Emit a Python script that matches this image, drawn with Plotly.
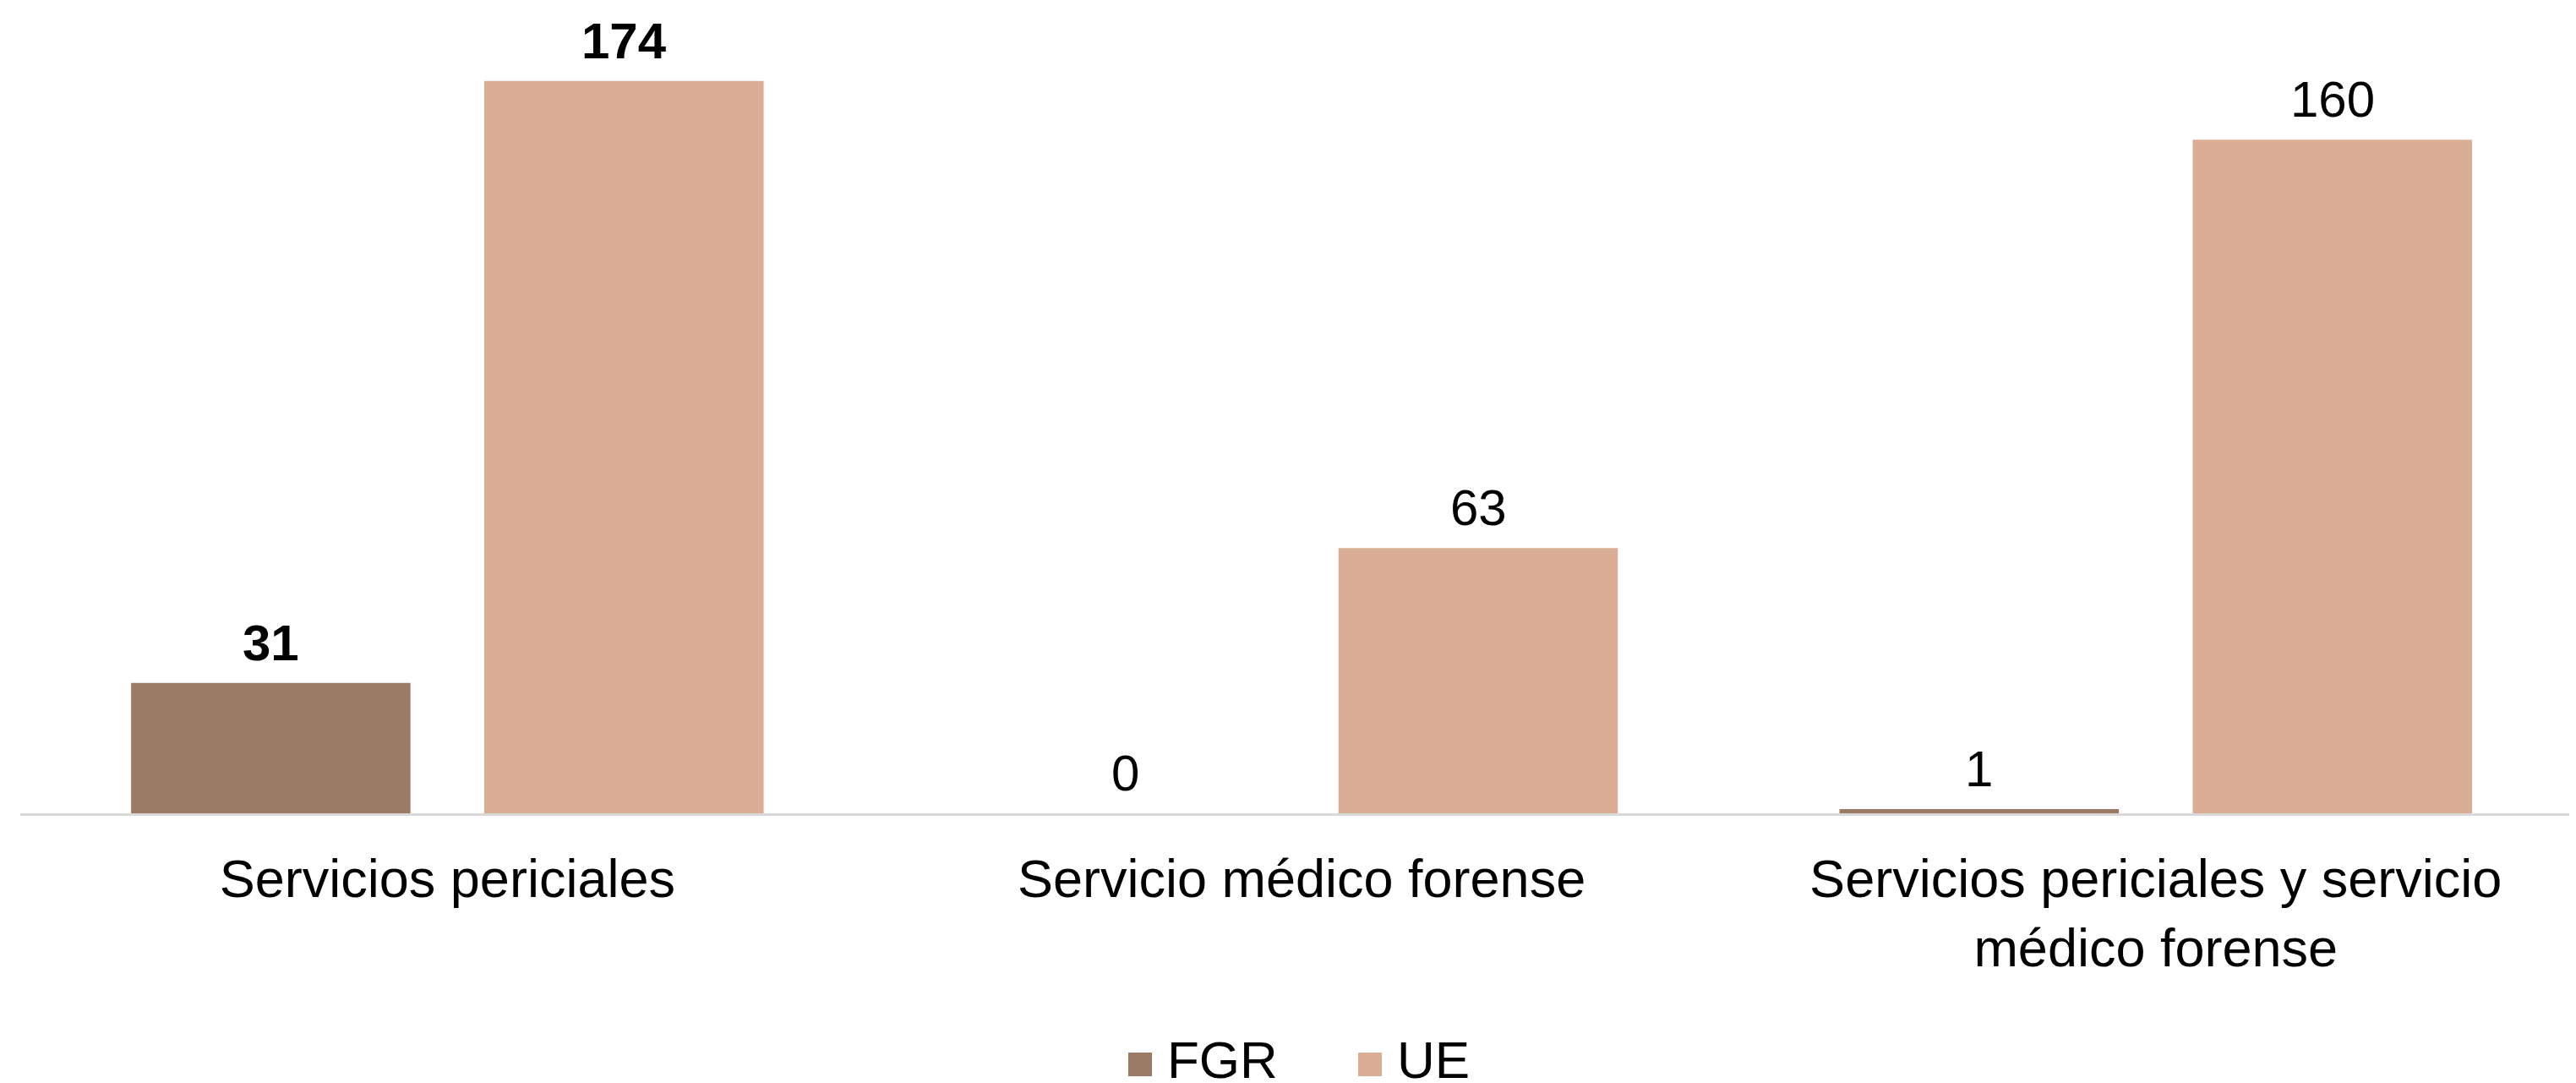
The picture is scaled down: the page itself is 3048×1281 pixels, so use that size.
import plotly.graph_objects as go

categories = ["Servicios periciales", "Servicio médico forense",
              "Servicios periciales y servicio<br>médico forense"]
series_names = ["FGR", "UE"]
fgr_values = [31, 0, 1]
ue_values = [174, 63, 160]
fgr_bold = [True, False, False]
ue_bold = [True, False, False]

colors = {"FGR": "#9B7B65", "UE": "#DAAE95"}
FONT = "Liberation Sans, Arial, sans-serif"

PAGE_OFF = 8  # default body margin of the html page
W, H = 3048 - PAGE_OFF, 1281 - PAGE_OFF
M_L, M_R, M_T, M_B = 16, 0, 8, 319
plot_h = H - M_T - M_B
plot_w = W - M_L - M_R

BARGAP, GROUPGAP = 0.173, 0.209
X_RANGE = [-0.5, 2.492]
px_per_cat = plot_w / (X_RANGE[1] - X_RANGE[0])
slot = (1 - BARGAP) / 2
offsets = [-slot / 2 * px_per_cat, slot / 2 * px_per_cat]

fig = go.Figure()
for i, (name, vals, bold) in enumerate([("FGR", fgr_values, fgr_bold),
                                        ("UE", ue_values, ue_bold)]):
    fig.add_trace(go.Bar(
        x=categories, y=vals, name=name,
        marker=dict(color=colors[name], line=dict(width=0)),
        showlegend=False,
    ))
    for c, v, b in zip(categories, vals, bold):
        fig.add_annotation(
            x=c, y=v, xref="x", yref="y", xshift=offsets[i], yshift=12,
            xanchor="center", yanchor="bottom", showarrow=False,
            text=f"<b>{v}</b>" if b else str(v),
            font=dict(size=60, color="black", family=FONT),
        )


def py(page_pix):
    return (H - M_B - (page_pix - PAGE_OFF)) / plot_h


def pxp(page_pix):
    return (page_pix - PAGE_OFF - M_L) / plot_w


legend_items = [("FGR", 1335), ("UE", 1607)]
for name, px in legend_items:
    fig.add_shape(type="rect", xref="paper", yref="paper",
                  x0=pxp(px), x1=pxp(px + 28), y0=py(1273), y1=py(1245),
                  fillcolor=colors[name], line=dict(width=0))
    fig.add_annotation(xref="paper", yref="paper",
                       x=pxp(px + 44), y=py(1253),
                       xanchor="left", yanchor="middle", showarrow=False,
                       text=name, font=dict(size=62, color="black", family=FONT))

fig.update_layout(
    width=W, height=H,
    margin=dict(l=M_L, r=M_R, t=M_T, b=M_B),
    barmode="group", bargap=BARGAP, bargroupgap=GROUPGAP,
    plot_bgcolor="white", paper_bgcolor="white",
    showlegend=False,
    font=dict(family=FONT, color="black"),
)
fig.update_xaxes(
    type="category", range=X_RANGE,
    showline=True, linecolor="#D9D9D9", linewidth=3,
    ticks="", showgrid=False, tickfont=dict(size=63, color="black", family=FONT),
    ticklabelstandoff=20,
)
fig.update_yaxes(range=[0, 190], visible=False, showgrid=False, zeroline=False)

fig.write_html("out.html")
